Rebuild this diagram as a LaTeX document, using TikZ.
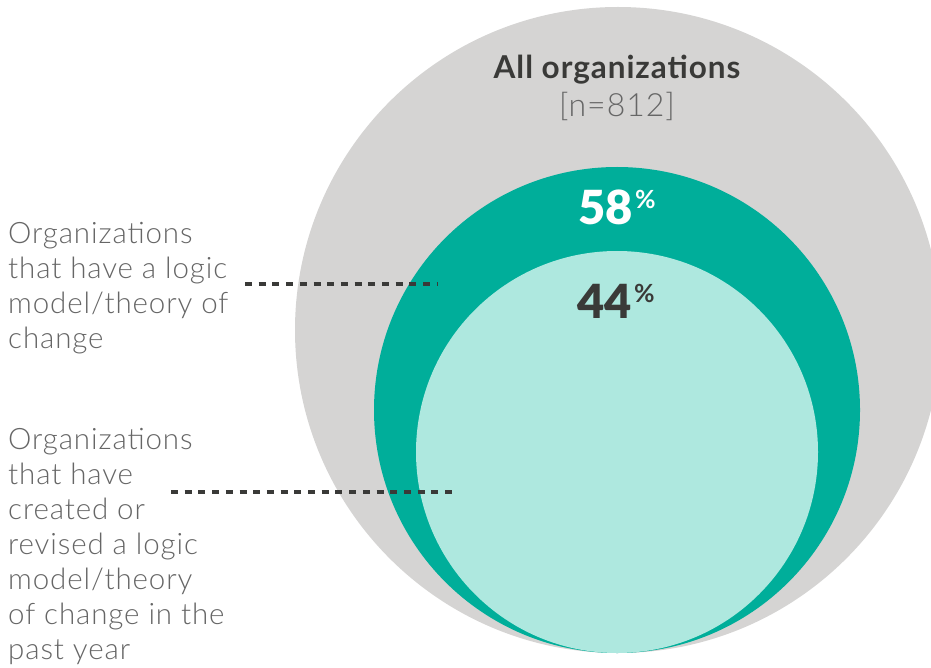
\documentclass[tikz,border=0pt]{standalone}
\usepackage{fontspec}
\setmainfont{Lato}
\newfontfamily\lightf[LetterSpace=3]{Lato Light}
\newfontfamily\blackf{Lato Black}
\definecolor{grayc}{HTML}{D5D4D3}
\definecolor{tealc}{HTML}{00AE9A}
\definecolor{lightc}{HTML}{AEE8DF}
\definecolor{darkc}{HTML}{3A3A38}
\definecolor{labc}{HTML}{666666}
\tikzset{
  lbl/.style={anchor=north west, inner sep=0pt, align=left, text=labc,
    font=\lightf\fontsize{29.5}{35}\selectfont},
  dotline/.style={draw=darkc, line width=4.5pt, dash pattern=on 7pt off 6.7pt},
  pct/.style={anchor=base, inner sep=0pt, font=\blackf\fontsize{47}{47}\selectfont}
}
\newcommand{\pctsign}{\hspace{2pt}\raisebox{16pt}{\fontsize{25}{25}\selectfont\bfseries\%}}
\begin{document}
\begin{tikzpicture}[x=1pt,y=-1pt]
\useasboundingbox (0,0) rectangle (931,668);
\clip (0,0) rectangle (931,668);
\fill[white] (0,0) rectangle (931,668);
% circles
\fill[grayc] (618,330) circle (323);
\fill[tealc] (617,410) circle (243);
\fill[lightc] (617,452) circle (201);
% titles
\node[anchor=base, inner sep=0pt, text=darkc, font=\bfseries\addfontfeatures{LetterSpace=3}\fontsize{31.5}{31.5}\selectfont] (all) at (617,79) {All organizations};
\node[anchor=base, inner sep=0pt, text=labc, font=\lightf\fontsize{32}{32}\selectfont] (n) at (617,117) {[n=812]};
\node[pct, text=white] (p58) at (617,225) {58\pctsign};
\node[pct, text=darkc] (p44) at (616,318) {44\pctsign};
% labels
\node[lbl] (l1) at (8,222) {Organizations\\that have a logic\\model/theory of\\change};
\node[lbl] (l2) at (8,428) {Organizations\\that have\\created or\\revised a logic\\model/theory\\of change in the\\past year};
% connectors
\coordinate (d1s) at (245,284);
\coordinate (d1e) at (438,284);
\coordinate (d2s) at (171,492);
\coordinate (d2e) at (453,492);
\draw[dotline] (d1s) -- (d1e);
\draw[dotline] (d2s) -- (d2e);
\end{tikzpicture}
\end{document}
